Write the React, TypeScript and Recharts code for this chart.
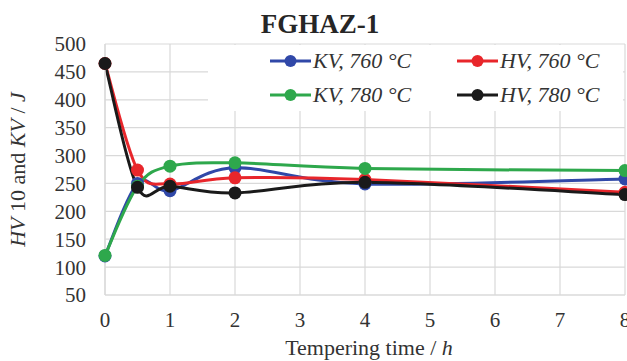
import React from "react";
import {
  LineChart,
  Line,
  XAxis,
  YAxis,
  CartesianGrid,
  Legend,
} from "recharts";

// tempering time (h) and measured values
const hours = [0, 0.5, 1, 2, 4, 8];
const kv760 = [120, 250, 237, 278, 249, 258];
const hv760 = [465, 274, 249, 260, 257, 234];
const kv780 = [121, 245, 281, 287, 277, 273];
const hv780 = [465, 243, 245, 233, 252, 230];

const xTicks = [0, 1, 2, 3, 4, 5, 6, 7, 8];
const yTicks = [50, 100, 150, 200, 250, 300, 350, 400, 450, 500];

const SERIES = [
  { key: "kv760", name: "KV, 760 °C", color: "#3048a8" },
  { key: "hv760", name: "HV, 760 °C", color: "#e8262b" },
  { key: "kv780", name: "KV, 780 °C", color: "#2ea84c" },
  { key: "hv780", name: "HV, 780 °C", color: "#1a1a1a" },
];

const FONT = "Liberation Serif, Times New Roman, serif";

const data = hours.map((h, i) => ({
  h,
  kv760: kv760[i],
  hv760: hv760[i],
  kv780: kv780[i],
  hv780: hv780[i],
}));

// Excel-like smoothed line (uniform Catmull-Rom as cubic beziers)
const smoothCurve: any = (context: any) => {
  let pts: number[][] = [];
  return {
    areaStart() {},
    areaEnd() {},
    lineStart() {
      pts = [];
    },
    point(x: number, y: number) {
      pts.push([+x, +y]);
    },
    lineEnd() {
      if (!pts.length) return;
      context.moveTo(pts[0][0], pts[0][1]);
      for (let i = 0; i < pts.length - 1; i++) {
        const p0 = pts[i - 1] || pts[i];
        const p1 = pts[i];
        const p2 = pts[i + 1];
        const p3 = pts[i + 2] || p2;
        context.bezierCurveTo(
          p1[0] + (p2[0] - p0[0]) / 6,
          p1[1] + (p2[1] - p0[1]) / 6,
          p2[0] - (p3[0] - p1[0]) / 6,
          p2[1] - (p3[1] - p1[1]) / 6,
          p2[0],
          p2[1]
        );
      }
    },
  };
};

const YLabel = (props: any) => {
  const { x, y, height } = props.viewBox;
  const cx = x + 17;
  const cy = y + height / 2;
  return (
    <text
      x={cx}
      y={cy}
      transform={`rotate(-90 ${cx} ${cy})`}
      textAnchor="middle"
      dominantBaseline="central"
      style={{ fontFamily: FONT }}
      fontSize={22}
      fill="#333"
    >
      <tspan fontStyle="italic">HV</tspan>
      <tspan> 10 and </tspan>
      <tspan fontStyle="italic">KV</tspan>
      <tspan> / </tspan>
      <tspan fontStyle="italic">J</tspan>
    </text>
  );
};

const XLabel = (props: any) => {
  const { x, y, width } = props.viewBox;
  return (
    <text
      x={x + width / 2 + 4}
      y={y + 52}
      textAnchor="middle"
      dominantBaseline="central"
      style={{ fontFamily: FONT }}
      fontSize={22}
      fill="#333"
    >
      <tspan>Tempering time / </tspan>
      <tspan fontStyle="italic">h</tspan>
    </text>
  );
};

const LegendBox = () => (
  <div
    style={{
      width: 415,
      height: 66,
      background: "#fff",
      position: "relative",
      fontFamily: FONT,
    }}
  >
    {SERIES.map((s, i) => {
      const col = i % 2;
      const row = Math.floor(i / 2);
      return (
        <div
          key={s.key}
          style={{
            position: "absolute",
            left: 62 + col * 187,
            top: 2 + row * 34,
            height: 28,
            display: "flex",
            alignItems: "center",
            whiteSpace: "nowrap",
          }}
        >
          <svg width={41} height={16}>
            <line x1={0} y1={8} x2={41} y2={8} stroke={s.color} strokeWidth={3} />
            <circle cx={20.5} cy={8} r={6} fill={s.color} />
          </svg>
          <span
            style={{
              fontStyle: "italic",
              fontSize: 22,
              color: "#333",
              marginLeft: 2,
              fontFamily: FONT,
            }}
          >
            {s.name}
          </span>
        </div>
      );
    })}
  </div>
);

export default function App() {
  return (
    <div
      style={{
        position: "absolute",
        left: 0,
        top: 0,
        width: 627,
        height: 361,
        background: "#fff",
        fontFamily: FONT,
      }}
    >
      <LineChart
        width={627}
        height={361}
        data={data}
        margin={{ top: 44, right: 2, bottom: 0, left: 0 }}
        style={{ fontFamily: FONT }}
      >
        <text
          x={320}
          y={24}
          textAnchor="middle"
          dominantBaseline="central"
          style={{ fontFamily: FONT }}
          fontWeight="bold"
          fontSize={27}
          fill="#262626"
        >
          FGHAZ-1
        </text>
        <CartesianGrid stroke="#d9d9d9" strokeWidth={1.2} />
        <XAxis
          dataKey="h"
          type="number"
          domain={[0, 8]}
          ticks={xTicks}
          interval={0}
          height={66}
          tickSize={0}
          tickMargin={17}
          axisLine={{ stroke: "#d9d9d9", strokeWidth: 1.2 }}
          tick={{ fontFamily: FONT, fontSize: 21, fill: "#333" }}
          label={<XLabel />}
        />
        <YAxis
          type="number"
          domain={[50, 500]}
          ticks={yTicks}
          interval={0}
          width={105}
          tickSize={0}
          tickMargin={19}
          axisLine={{ stroke: "#d9d9d9", strokeWidth: 1.2 }}
          tick={{ fontFamily: FONT, fontSize: 21, fill: "#333" }}
          label={<YLabel />}
        />
        <Legend
          layout="vertical"
          align="center"
          verticalAlign="middle"
          content={<LegendBox />}
          wrapperStyle={{ left: 208, top: 45, width: 415, height: 66 }}
        />
        {SERIES.map((s) => (
          <Line
            key={s.key}
            dataKey={s.key}
            name={s.name}
            type={smoothCurve}
            stroke={s.color}
            strokeWidth={3}
            dot={{ r: 6.5, fill: s.color, stroke: s.color, strokeWidth: 0 }}
            activeDot={false}
            isAnimationActive={false}
          />
        ))}
      </LineChart>
    </div>
  );
}
